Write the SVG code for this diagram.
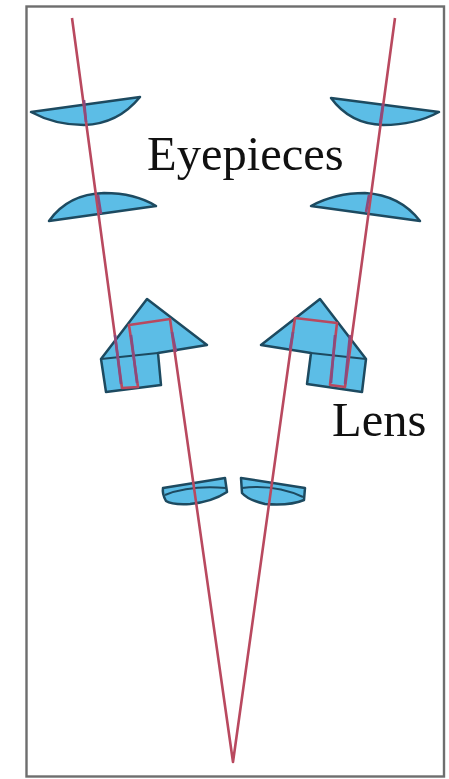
<svg xmlns="http://www.w3.org/2000/svg" width="449" height="779" viewBox="0 0 449 779">
<style>
.g{fill:#5cbde6;stroke:#1d4a60;stroke-width:2.5;stroke-linejoin:round}
.i{fill:none;stroke:#1d4a60;stroke-width:2}
.r{fill:none;stroke:#b9495f;stroke-width:2.6;stroke-linejoin:round}
.ri{fill:none;stroke:#8d4a7c;stroke-width:2.6}
text{font-family:"Liberation Serif","Times New Roman",serif;font-size:48.5px;fill:#111}
</style>
<rect width="449" height="779" fill="#fff"/>
<rect id="frame" x="26.5" y="6.5" width="417.5" height="770" fill="none" stroke="#6e6e6e" stroke-width="2.4"/>
<g id="eyepiece-left-top"><path class="g" d="M31 112 L140 97 Q118 124 84 125 Q55 125 31 112Z"/></g>
<g id="eyepiece-left-bottom"><path class="g" d="M49 221 Q68 194 104 193 Q135 193 156 206Z"/></g>
<g id="eyepiece-right-top"><path class="g" d="M331 98 L439 112 Q415 125 383 125 Q350 124 331 98Z"/></g>
<g id="eyepiece-right-bottom"><path class="g" d="M311 206 Q335 193 365 193 Q400 195 420 221Z"/></g>
<g id="prism-left"><path class="g" d="M147 299 L207 345 L158 353 L161 385 L106 392 L101 359Z"/><path class="i" d="M101 359 L158 353"/></g>
<g id="prism-right"><path class="g" d="M320 299 L366 359 L362 392 L307 384 L311 353 L261 345Z"/><path class="i" d="M311 353 L366 359"/></g>
<g id="objective-left"><path class="g" d="M163 488 L225 478 L227 492 Q212 502 190 504 Q172 505 166 501 Q162 494 163 488Z"/><path class="i" d="M165 495 Q190 485 226 488"/></g>
<g id="objective-right"><path class="g" d="M241 478 L305 488 L304 500 Q290 506 265 504 Q248 500 242 493Z"/><path class="i" d="M242 488 Q275 484 303 497"/></g>
<g id="connectors">
<path class="r" d="M72 18 L122 388 L138 387 L129 325 L170 319 L233 762 L295 318 L337 323 L330 385 L345 387 L395 18"/>
<path class="ri" d="M115 335 L121 384 M131 335 L137 383 M172 332 L176 352 M293 332 L290 349 M335 335 L331 383 M350 335 L345 384 M84 100 L86 122 M98 195 L101 214 M369 195 L366 212 M383 104 L380 124"/>
</g>
<g id="labels">
<text x="147" y="170">Eyepieces</text>
<text x="332" y="436">Lens</text>
</g>
</svg>
